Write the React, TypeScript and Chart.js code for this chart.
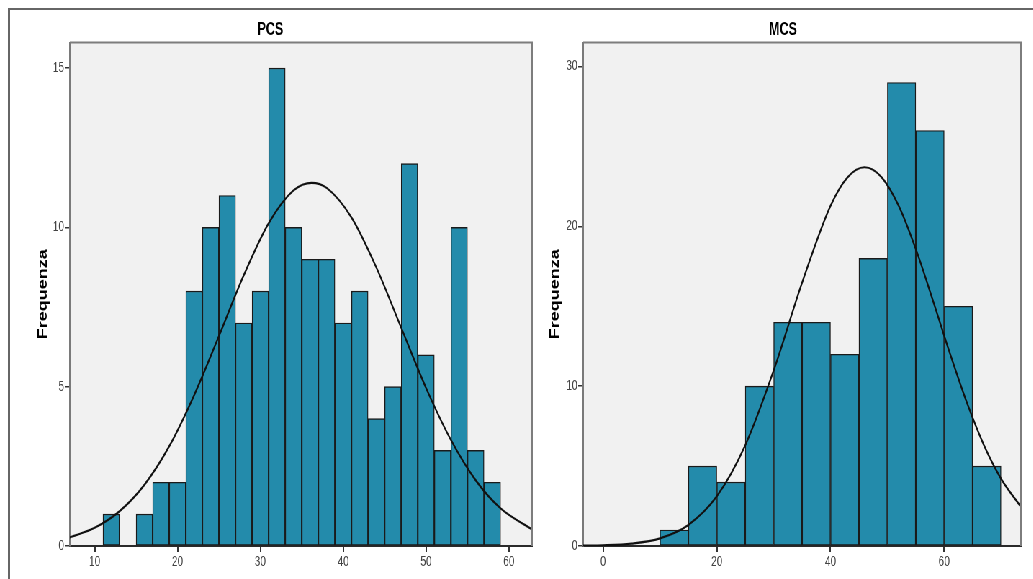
import React, { useEffect, useRef } from 'react';
import { Chart, registerables } from 'chart.js';

Chart.register(...registerables);
Chart.defaults.font.family = '"Liberation Sans", Arial, Helvetica, sans-serif';

// ---------- PCS (left) ----------
const pcsBins = [12, 14, 16, 18, 20, 22, 24, 26, 28, 30, 32, 34, 36, 38, 40, 42, 44, 46, 48, 50, 52, 54, 56, 58];
const pcsCounts = [1, 0, 1, 2, 2, 8, 10, 11, 7, 8, 15, 10, 9, 9, 7, 8, 4, 5, 12, 6, 3, 10, 3, 2];
const pcsCurveX = [7, 10, 13, 16, 19, 22, 25, 28, 31, 34, 36.2, 38, 41, 44, 47, 50, 53, 56, 59, 62.8];
const pcsCurveY = [0.27, 0.57, 1.09, 1.92, 3.13, 4.73, 6.59, 8.5, 10.13, 11.16, 11.4, 11.24, 10.31, 8.74, 6.85, 4.96, 3.33, 2.06, 1.18, 0.52];
const pcsXTicks = [10, 20, 30, 40, 50, 60];
const pcsYTicks = [0, 5, 10, 15];

// ---------- MCS (right) ----------
const mcsBins = [12.5, 17.5, 22.5, 27.5, 32.5, 37.5, 42.5, 47.5, 52.5, 57.5, 62.5, 67.5];
const mcsCounts = [1, 5, 4, 10, 14, 14, 12, 18, 29, 26, 15, 5];
const mcsCurveX = [-3.5, 0, 5, 10, 15, 20, 25, 30, 35, 40, 43, 46, 49, 52, 55, 58, 61, 64, 67, 70, 73.5];
const mcsCurveY = [0.02, 0.04, 0.15, 0.48, 1.32, 3.11, 6.3, 10.98, 16.47, 21.28, 23.07, 23.7, 23.07, 21.28, 18.58, 15.38, 12.06, 8.96, 6.3, 4.21, 2.45];
const mcsXTicks = [0, 20, 40, 60];
const mcsYTicks = [0, 10, 20, 30];

const yTitle = 'Frequenza';

// horizontal squash factor of the original picture
const K = 0.72;

const plotFrame = {
  id: 'plotFrame',
  beforeDraw(chart: any) {
    const { ctx, chartArea } = chart;
    const { left, top, right, bottom } = chartArea;
    ctx.save();
    ctx.fillStyle = '#f1f1f1';
    ctx.fillRect(left, top, right - left, bottom - top);
    ctx.restore();
  },
  afterDatasetsDraw(chart: any) {
    const { ctx, chartArea } = chart;
    const { left, top, right, bottom } = chartArea;
    ctx.save();
    ctx.strokeStyle = '#7d7d7d';
    ctx.lineWidth = 2;
    ctx.beginPath();
    ctx.moveTo(left, top);
    ctx.lineTo(right, top);
    ctx.lineTo(right, bottom);
    ctx.stroke();
    ctx.restore();
  },
};

type Panel = {
  title: string;
  bins: number[];
  counts: number[];
  curveX: number[];
  curveY: number[];
  xTicks: number[];
  yTicks: number[];
  xMin: number;
  xMax: number;
  yMax: number;
  yAxisWidth: number;
  padRight: number;
  yTitlePad: number;
};

function makeConfig(p: Panel): any {
  const tickGrid = (len: number, lw: number) => ({
    display: true,
    offset: false,
    drawOnChartArea: false,
    drawTicks: true,
    tickLength: len,
    color: '#333',
    lineWidth: lw,
  });
  return {
    type: 'bar',
    data: {
      datasets: [
        {
          type: 'line',
          data: p.curveX.map((x, i) => ({ x, y: p.curveY[i] })),
          borderColor: '#111',
          borderWidth: 2.2,
          pointRadius: 0,
          cubicInterpolationMode: 'monotone',
          fill: false,
          order: 0,
        },
        {
          type: 'bar',
          data: p.bins.map((x, i) => ({ x, y: p.counts[i] })),
          backgroundColor: '#238bab',
          borderColor: '#1a1a1a',
          borderWidth: 1.4,
          borderSkipped: false,
          barPercentage: 1,
          categoryPercentage: 1,
          order: 1,
        },
      ],
    },
    options: {
      responsive: false,
      animation: false,
      events: [],
      layout: { padding: { left: 0, right: p.padRight, top: 0, bottom: 0 } },
      plugins: {
        legend: { display: false },
        tooltip: { enabled: false },
        title: {
          display: true,
          text: p.title,
          color: '#000',
          font: { size: 17.5, weight: 'bold' },
          padding: { top: 19.3, bottom: 2.3 },
        },
      },
      scales: {
        x: {
          type: 'linear',
          min: p.xMin,
          max: p.xMax,
          offset: false,
          grid: tickGrid(6, 2),
          border: { display: true, color: '#2a2a2a', width: 2 },
          ticks: { color: '#444', font: { size: 14 }, padding: 2, maxRotation: 0, autoSkip: false },
          afterBuildTicks: (s: any) => {
            s.ticks = p.xTicks.map((v) => ({ value: v }));
          },
          afterFit: (s: any) => {
            s.height = 33;
          },
        },
        y: {
          type: 'linear',
          min: 0,
          max: p.yMax,
          grid: tickGrid(7, 1.5),
          border: { display: true, color: '#7a7a7a', width: 2 },
          ticks: { color: '#444', font: { size: 14 }, padding: 1 },
          title: {
            display: true,
            text: yTitle,
            color: '#000',
            font: { size: 18, weight: 'bold' },
            padding: { top: p.yTitlePad, bottom: 0 },
          },
          afterBuildTicks: (s: any) => {
            s.ticks = p.yTicks.map((v) => ({ value: v }));
          },
          afterFit: (s: any) => {
            s.width = p.yAxisWidth;
          },
        },
      },
    },
    plugins: [plotFrame],
  };
}

const leftPanel: Panel = {
  title: 'PCS',
  bins: pcsBins,
  counts: pcsCounts,
  curveX: pcsCurveX,
  curveY: pcsCurveY,
  xTicks: pcsXTicks,
  yTicks: pcsYTicks,
  xMin: 7,
  xMax: 62.8,
  yMax: 15.8,
  yAxisWidth: 85,
  padRight: 37,
  yTitlePad: 37,
};

const rightPanel: Panel = {
  title: 'MCS',
  bins: mcsBins,
  counts: mcsCounts,
  curveX: mcsCurveX,
  curveY: mcsCurveY,
  xTicks: mcsXTicks,
  yTicks: mcsYTicks,
  xMin: -3.5,
  xMax: 73.5,
  yMax: 31.5,
  yAxisWidth: 53,
  padRight: 3,
  yTitlePad: 3,
};

function HistChart({ panel, left, width }: { panel: Panel; left: number; width: number }) {
  const ref = useRef<HTMLCanvasElement | null>(null);
  useEffect(() => {
    if (!ref.current) return;
    const chart = new Chart(ref.current, makeConfig(panel));
    return () => chart.destroy();
  }, [panel]);
  return (
    <canvas
      ref={ref}
      width={width}
      height={579}
      style={{ position: 'absolute', left, top: 0, width, height: 579 }}
    />
  );
}

export default function App() {
  const U = Math.round(1033 / K);
  return (
    <div style={{ position: 'absolute', left: 0, top: 0, width: 1033, height: 579, overflow: 'hidden', background: '#fff' }}>
      <div
        style={{
          position: 'absolute',
          left: 0,
          top: 0,
          width: U,
          height: 579,
          transform: `scaleX(${K})`,
          transformOrigin: '0 0',
        }}
      >
        <HistChart panel={leftPanel} left={12} width={764} />
        <HistChart panel={rightPanel} left={757} width={664} />
      </div>
      <div
        style={{
          position: 'absolute',
          left: 8,
          top: 8,
          width: 1100,
          height: 700,
          borderTop: '2px solid #666',
          borderLeft: '2px solid #666',
        }}
      />
    </div>
  );
}
